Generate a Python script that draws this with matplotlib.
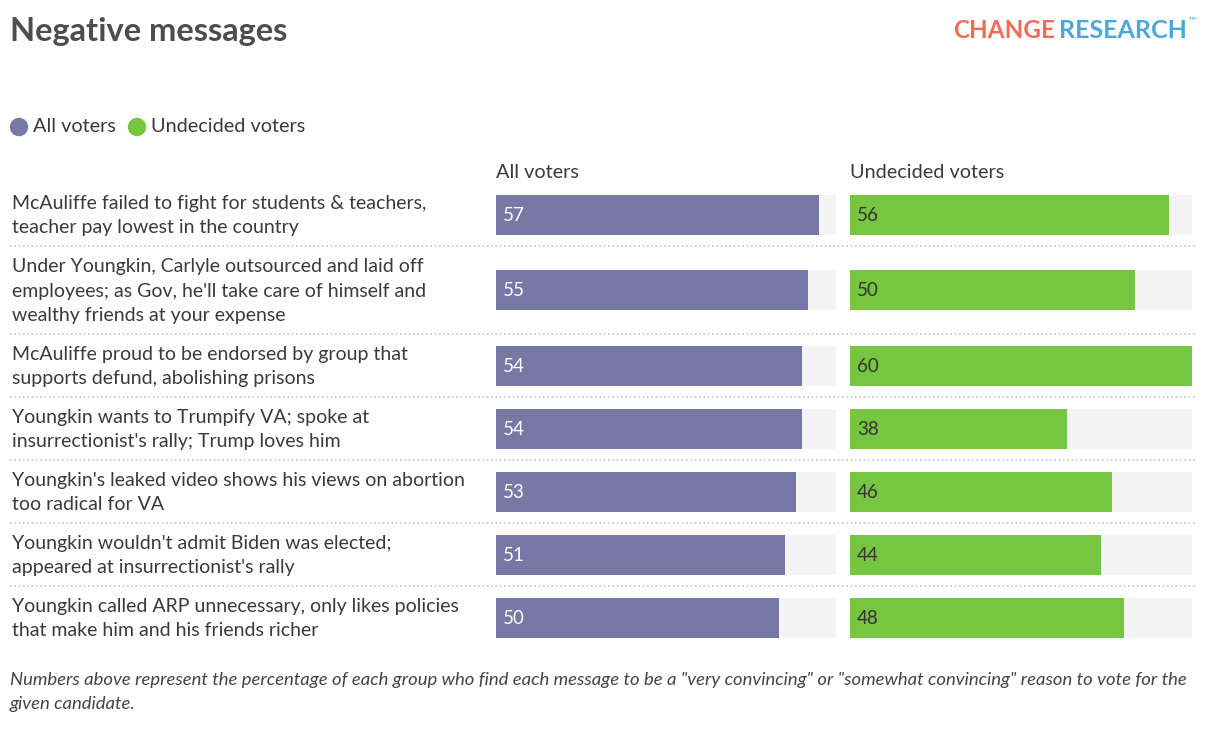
import matplotlib.pyplot as plt
from matplotlib.patches import Circle

plt.rcParams['font.family'] = ['Lato', 'DejaVu Sans']

title = "Negative messages"
messages = [
    "McAuliffe failed to fight for students & teachers,\nteacher pay lowest in the country",
    "Under Youngkin, Carlyle outsourced and laid off\nemployees; as Gov, he'll take care of himself and\nwealthy friends at your expense",
    "McAuliffe proud to be endorsed by group that\nsupports defund, abolishing prisons",
    "Youngkin wants to Trumpify VA; spoke at\ninsurrectionist's rally; Trump loves him",
    "Youngkin's leaked video shows his views on abortion\ntoo radical for VA",
    "Youngkin wouldn't admit Biden was elected;\nappeared at insurrectionist's rally",
    "Youngkin called ARP unnecessary, only likes policies\nthat make him and his friends richer",
]
all_voters = [57, 55, 54, 54, 53, 51, 50]
undecided = [56, 50, 60, 38, 46, 44, 48]
series_names = ["All voters", "Undecided voters"]
footnote = ('Numbers above represent the percentage of each group who find each message to be a "very convincing" '
            'or "somewhat convincing" reason to vote for the\ngiven candidate.')

purple = '#7878a6'
green = '#76c641'
track = '#f4f4f4'
text_c = '#3a3a3a'

W, H = 1210, 736
fig = plt.figure(figsize=(W / 100, H / 100), dpi=100)

# overlay axes in pixel coordinates for text and separators
ov = fig.add_axes([0, 0, 1, 1])
ov.set_xlim(0, W)
ov.set_ylim(H, 0)
ov.axis('off')

# row layout from the number of lines in each label
top = 183
centers, bounds = [], []
for m in messages:
    n = m.count('\n') + 1
    h = 13 + 25 * n
    centers.append(top + h / 2)
    bounds.append(top + h)
    top += h

def bar_axes(x0, x1):
    ax = fig.add_axes([x0 / W, 0, (x1 - x0) / W, 1])
    ax.set_xlim(0, 60)
    ax.set_ylim(H, 0)
    ax.axis('off')
    return ax

ax1 = bar_axes(496, 836)
ax2 = bar_axes(850, 1192)
for ax, vals, col, lc in [(ax1, all_voters, purple, 'white'), (ax2, undecided, green, '#333333')]:
    ax.barh(centers, [60] * len(vals), height=40, color=track, zorder=1)
    ax.barh(centers, vals, height=40, color=col, zorder=2)
    for y, v in zip(centers, vals):
        ax.text(1.2, y + 1, str(v), color=lc, fontsize=13.5, va='center', ha='left', zorder=3)

for y, m in zip(centers, messages):
    ov.text(12, y + 1, m, fontsize=14, color=text_c, va='center', ha='left', linespacing=1.52)

for b in bounds[:-1]:
    ov.plot([10, 1196], [b, b], color='#c8c8c8', lw=1.2, linestyle=(0, (1, 1.6)))

# headers
ov.text(496, 172, series_names[0], fontsize=14.3, color=text_c, va='center')
ov.text(850, 172, series_names[1], fontsize=14.3, color=text_c, va='center')

# title and logo
ov.text(10, 32, title, fontsize=23.5, fontweight='bold', color='#4d4d4d', va='center')
ov.text(953, 30, "CHANGE", fontsize=17.5, fontweight='bold', color='#f26c55', va='center')
ov.text(1059, 30, "RESEARCH", fontsize=18, fontweight='bold', color='#4ba9da', va='center')
ov.text(1189, 21, "\u2122", fontsize=7, color='#4ba9da', va='center')

# legend
ov.add_patch(Circle((19, 127), 8.5, color=purple))
ov.text(33, 127, series_names[0], fontsize=14.3, color=text_c, va='center')
ov.add_patch(Circle((137, 127), 8.5, color=green))
ov.text(151, 127, series_names[1], fontsize=14.3, color=text_c, va='center')

# footnote
ov.text(10, 692, footnote, fontsize=13.3, style='italic', color='#444444', va='center', linespacing=1.62)

fig.savefig('out.png', dpi=100)
